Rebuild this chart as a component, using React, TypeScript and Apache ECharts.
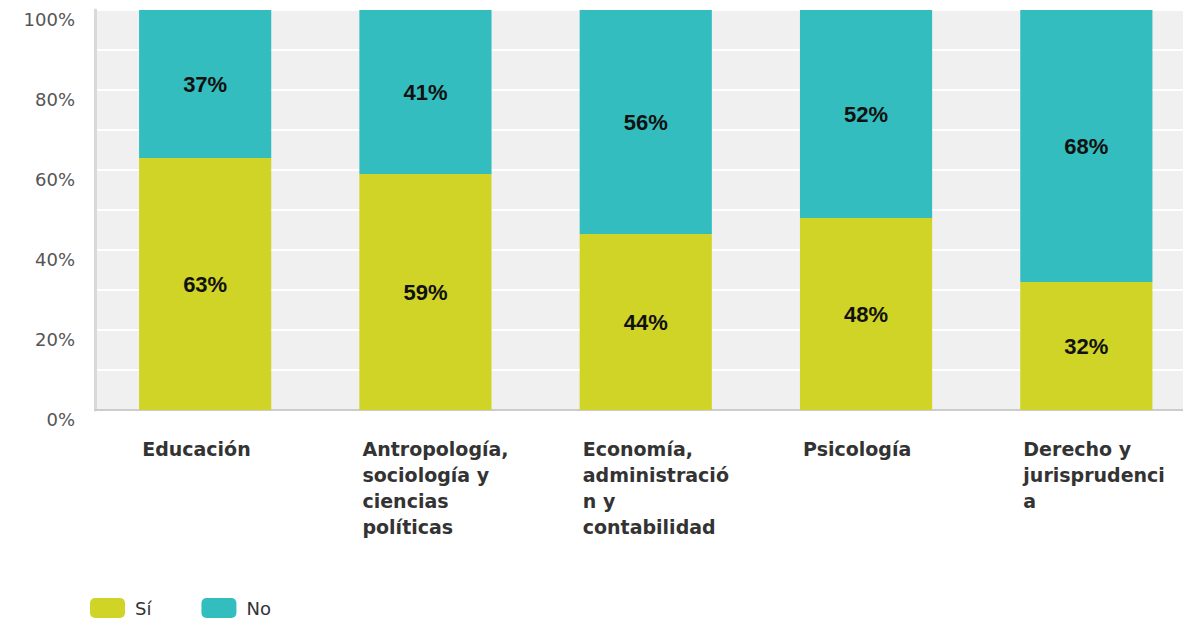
import React, { useEffect, useRef } from "react";
import * as echarts from "echarts";

const categories = [
  "Educación",
  "Antropología,\nsociología y\nciencias\npolíticas",
  "Economía,\nadministració\nn y\ncontabilidad",
  "Psicología",
  "Derecho y\njurisprudenci\na",
];
const siValues = [63, 59, 44, 48, 32];
const noValues = [37, 41, 56, 52, 68];
const seriesNames = ["Sí", "No"];

export default function App() {
  const ref = useRef<HTMLDivElement>(null);
  useEffect(() => {
    if (!ref.current) return;
    const chart = echarts.init(ref.current, null, { renderer: "svg" });
    const valueLabel = {
      show: true,
      position: "inside",
      formatter: "{c}%",
      color: "#111",
      fontFamily: "Liberation Sans",
      fontWeight: "bold",
      fontSize: 22,
    };
    chart.setOption({
      animation: false,
      grid: {
        left: 95,
        right: 3.5,
        top: 10,
        bottom: 208,
        show: true,
        backgroundColor: "#f0f0f0",
        borderWidth: 0,
        containLabel: false,
      },
      legend: {
        left: 85,
        top: 593,
        itemWidth: 35,
        itemHeight: 20,
        itemGap: 50,
        icon: "roundRect",
        data: seriesNames,
        textStyle: {
          fontFamily: "DejaVu Sans",
          fontSize: 18,
          color: "#333",
          padding: [0, 0, 0, 5],
        },
      },
      xAxis: {
        type: "category",
        data: categories,
        axisTick: { show: false },
        axisLine: { show: true, lineStyle: { color: "#cccccc", width: 2 } },
        axisLabel: {
          interval: 0,
          margin: 26,
          verticalAlign: "top",
          formatter: (v: string) => "{a|" + v + "}",
          rich: {
            a: {
              width: 126,
              align: "left",
              fontFamily: "DejaVu Sans",
              fontWeight: "bold",
              fontSize: 19,
              lineHeight: 26,
              color: "#333",
            },
          },
        },
      },
      yAxis: {
        type: "value",
        min: 0,
        max: 100,
        interval: 20,
        axisLine: { show: true, lineStyle: { color: "#d9d9d9", width: 3 } },
        axisTick: { show: false },
        axisLabel: {
          formatter: "{value}%",
          margin: 20,
          verticalAlign: "top",
          fontFamily: "DejaVu Sans",
          fontSize: 18,
          color: "#555",
        },
        splitLine: { show: true, lineStyle: { color: "#ffffff", width: 2 } },
        minorTick: { show: false, splitNumber: 2 },
        minorSplitLine: { show: true, lineStyle: { color: "#ffffff", width: 2 } },
      },
      series: [
        {
          name: seriesNames[0],
          type: "bar",
          stack: "total",
          barWidth: "60%",
          data: siValues,
          itemStyle: { color: "#cfd427" },
          label: valueLabel,
        },
        {
          name: seriesNames[1],
          type: "bar",
          stack: "total",
          barWidth: "60%",
          data: noValues,
          itemStyle: { color: "#33bdbf" },
          label: valueLabel,
        },
      ],
    });
    return () => chart.dispose();
  }, []);
  return (
    <div
      style={{
        position: "absolute",
        left: 0,
        top: 0,
        width: 1183,
        height: 618,
        overflow: "hidden",
      }}
    >
      <div ref={ref} style={{ width: 1200, height: 618 }} />
    </div>
  );
}
